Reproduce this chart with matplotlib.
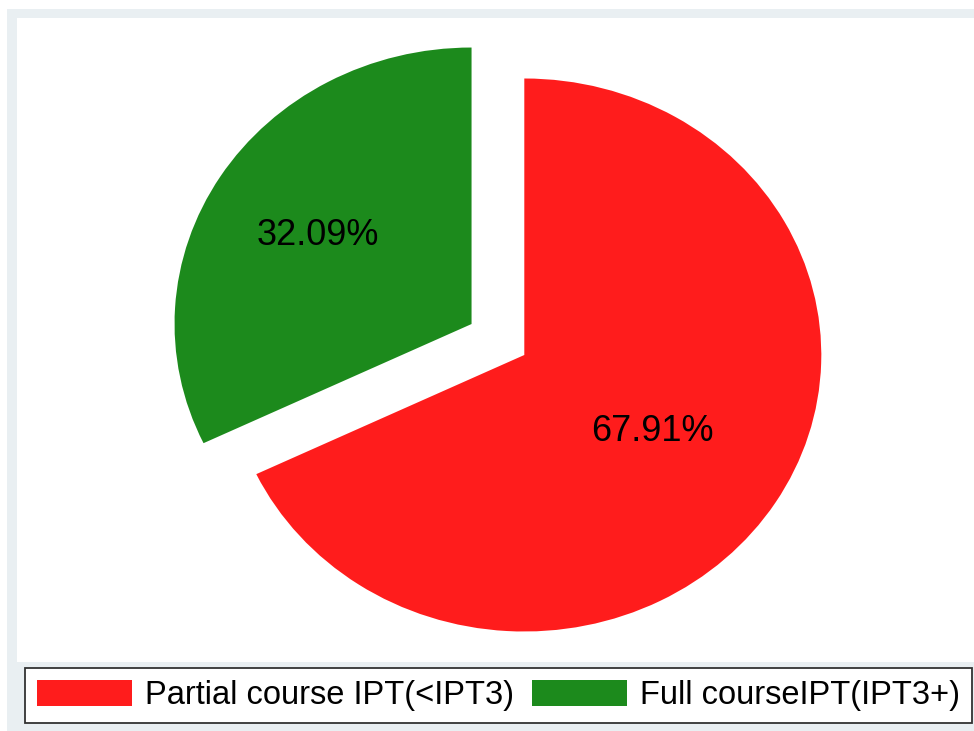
import numpy as np
import matplotlib
matplotlib.use("Agg")
from matplotlib import pyplot as plt
from matplotlib.patches import Rectangle, Patch

# donnees du camembert
labels = ["Partial course IPT(<IPT3)", "Full courseIPT(IPT3+)"]
shares = [67.91, 32.09]
colors = ["#ff1c1c", "#1c8a1c"]

plt.rcParams['font.family'] = ['Liberation Sans', 'DejaVu Sans']

W, H = 974, 731
fig = plt.figure(figsize=(W / 100, H / 100), dpi=100)
fig.patch.set_facecolor("white")

def px_rect(x0, y0, x1, y1, color):
    # rectangle en pixels (origine en haut a gauche), sous les axes
    fig.patches.append(Rectangle((x0 / W, 1 - y1 / H), (x1 - x0) / W, (y1 - y0) / H,
                                 transform=fig.transFigure, facecolor=color,
                                 edgecolor="none", zorder=-5))

px_rect(7, 9, W, H, "#e9eff2")
px_rect(17, 18, W, 662, "white")

# axes du camembert : region blanche, echelle x et y differentes (image etiree)
left, top, right, bottom = 17, 18, W, 662
ax = fig.add_axes([left / W, 1 - bottom / H, (right - left) / W, (bottom - top) / H])
ax.patch.set_alpha(0)

wedges, _ = ax.pie(shares, colors=colors, startangle=90, counterclock=False,
                   explode=[0, 0.21], radius=1)

rx, ry = 297.0, 276.5
cx, cy = 524.3, 355.0
xmin = -(cx - left) / rx
ymax = (cy - top) / ry
ax.set_aspect("auto")
ax.set_xlim(xmin, xmin + (right - left) / rx)
ax.set_ylim(ymax - (bottom - top) / ry, ymax)
ax.set_axis_off()

# etiquettes en pourcentage
label_dist = [0.51, 0.61]
for w, s, d in zip(wedges, shares, label_dist):
    mid = np.deg2rad((w.theta1 + w.theta2) / 2)
    x = w.center[0] + d * np.cos(mid)
    y = w.center[1] + d * np.sin(mid)
    ax.text(x, y - 0.005, "%.2f%%" % s, ha="center", va="center", fontsize=26, color="black")

# legende en bas
handles = [Patch(facecolor=c, edgecolor="none") for c in colors]
leg = fig.legend(handles, labels, ncol=2, loc="center",
                 bbox_to_anchor=((26 + 971) / 2 / W, 1 - (669 + 722) / 2 / H),
                 fontsize=23.5, handlelength=2.91, handleheight=0.83,
                 handletextpad=0.4, columnspacing=0.55, borderpad=0.37,
                 fancybox=False, framealpha=1, edgecolor="#333333")
leg.get_frame().set_linewidth(1.3)

fig.savefig("out.png", dpi=100)
